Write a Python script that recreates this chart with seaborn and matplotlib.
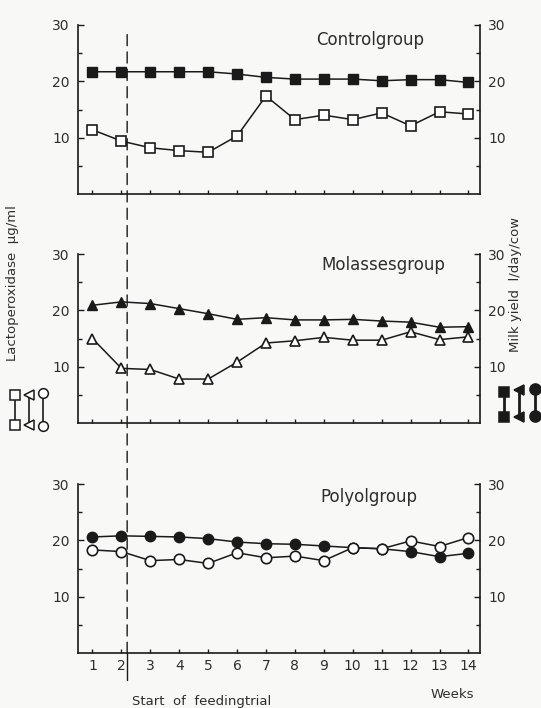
import matplotlib
matplotlib.use("Agg")
import matplotlib.pyplot as plt
import seaborn as sns
from matplotlib.lines import Line2D
from matplotlib.patches import ConnectionPatch
from matplotlib.ticker import FixedLocator

# ---------------- data ----------------
weeks = list(range(1, 15))
week_labels = [str(w) for w in weeks]

# Lactoperoxidase (ug/ml, left axis, open markers)
ctrl_lp = [11.4, 9.4, 8.2, 7.7, 7.4, 10.3, 17.4, 13.2, 14.0, 13.2, 14.4, 12.1, 14.6, 14.2]
mol_lp = [15.0, 9.7, 9.5, 7.8, 7.8, 10.8, 14.2, 14.6, 15.2, 14.7, 14.7, 16.2, 14.8, 15.3]
poly_lp = [18.3, 18.0, 16.4, 16.6, 15.9, 17.8, 16.9, 17.2, 16.4, 18.7, 18.5, 19.9, 18.9, 20.5]

# Milk yield (l/day/cow, right axis, filled markers)
ctrl_milk = [21.7, 21.7, 21.7, 21.7, 21.7, 21.3, 20.7, 20.4, 20.4, 20.4, 20.1, 20.3, 20.3, 19.8]
mol_milk = [20.9, 21.5, 21.2, 20.3, 19.4, 18.4, 18.7, 18.3, 18.3, 18.4, 18.1, 17.9, 17.0, 17.1]
poly_milk = [20.6, 20.8, 20.7, 20.6, 20.3, 19.7, 19.4, 19.3, 19.0, 18.7, 18.5, 18.0, 17.1, 17.7]

groups = ["Controlgroup", "Molassesgroup", "Polyolgroup"]
markers = ["s", "^", "o"]
feeding_start = 2.2

# ---------------- style ----------------
BG = "#f8f8f7"
INK = "#1a1a1a"
TXT = "#2e2e2e"
sns.set_theme(style="ticks")
plt.rcParams["font.family"] = ["DejaVu Sans"]
plt.rcParams["text.color"] = TXT
plt.rcParams["axes.edgecolor"] = INK
plt.rcParams["xtick.color"] = INK
plt.rcParams["ytick.color"] = INK
plt.rcParams["xtick.labelcolor"] = TXT
plt.rcParams["ytick.labelcolor"] = TXT

W, H = 541, 708
fig = plt.figure(figsize=(W / 100, H / 100), dpi=100, facecolor=BG)

def fx(px):
    return px / W

def fy(py):
    return 1 - py / H

L_px, R_px = 78, 480
panels_px = [(25, 194), (254, 423), (484, 653)]
title_px = [(370, 40), (383, 265), (369, 497)]
lp_data = [ctrl_lp, mol_lp, poly_lp]
milk_data = [ctrl_milk, mol_milk, poly_milk]
msizes = [6.5, 7.5, 7.5]

axes = []
for i, ((top, bot), title, lp, milk, m, ms) in enumerate(
        zip(panels_px, title_px, lp_data, milk_data, markers, msizes)):
    ax = fig.add_axes([fx(L_px), fy(bot), (R_px - L_px) / W, (bot - top) / H])
    ax2 = ax.twinx()
    ax.set_zorder(ax2.get_zorder() + 1)
    ax.set_facecolor("none")
    ax2.set_facecolor("none")

    sns.lineplot(x=weeks, y=milk, ax=ax2, color=INK, marker=m, markersize=ms,
                 markerfacecolor=INK, markeredgecolor=INK, markeredgewidth=1.0,
                 linewidth=1.1)
    sns.lineplot(x=weeks, y=lp, ax=ax, color=INK, marker=m, markersize=ms,
                 markerfacecolor="white", markeredgecolor=INK, markeredgewidth=1.2,
                 linewidth=1.1)

    for a in (ax, ax2):
        a.set_xlim(0.5, 14.4)
        a.set_ylim(0, 30)
        a.set_xlabel("")
        a.set_ylabel("")
        a.spines["top"].set_visible(False)
        a.yaxis.set_major_locator(FixedLocator([10, 20, 30]))
        a.yaxis.set_minor_locator(FixedLocator([5, 15, 25]))
        a.tick_params(axis="y", which="major", direction="in", length=4,
                      width=1.0, labelsize=10, pad=6)
        a.tick_params(axis="y", which="minor", direction="in", length=3, width=1.0)
    ax.spines["right"].set_visible(False)
    ax2.spines["left"].set_visible(False)
    ax2.spines["bottom"].set_visible(False)
    for sp in ("left", "bottom"):
        ax.spines[sp].set_linewidth(1.2)
    ax2.spines["right"].set_linewidth(1.2)

    ax.set_xticks(weeks)
    ax.tick_params(axis="x", direction="in", length=3, width=1.0, labelsize=10, pad=4)
    if i == 2:
        ax.set_xticklabels(week_labels)
    else:
        ax.set_xticklabels([])
    ax2.tick_params(axis="x", bottom=False, labelbottom=False)

    fig.text(fx(title[0]), fy(title[1]), groups[i], ha="center", va="center",
             fontsize=12, color=TXT)
    axes.append(ax)

# dashed "start of feeding trial" line through all panels
con = ConnectionPatch(xyA=(feeding_start, 28.3), coordsA=axes[0].transData,
                      xyB=(feeding_start, 0), coordsB=axes[2].transData,
                      linestyle=(0, (8, 4.5)), linewidth=1.0, color=INK)
fig.add_artist(con)
axes[2].plot([feeding_start, feeding_start], [0, -4.8], color=INK, lw=1.0,
             clip_on=False)

# axis titles
fig.text(fx(13), fy(283), "Lactoperoxidase  \u03bcg/ml", rotation=90,
         ha="center", va="center", fontsize=9.5, color=TXT)
fig.text(fx(515), fy(284), "Milk yield  l/day/cow", rotation=90,
         ha="center", va="center", fontsize=9.5, color=TXT)
fig.text(fx(202), fy(701), "Start  of  feedingtrial", ha="center", va="center",
         fontsize=9.5, color=TXT)
fig.text(fx(452), fy(694), "Weeks", ha="center", va="center",
         fontsize=9.5, color=TXT)

# marker keys (open = lactoperoxidase, filled = milk yield)
def key(xp, y1, y2, marker, filled, ms):
    fig.add_artist(Line2D([fx(xp), fx(xp)], [fy(y1), fy(y2)], transform=fig.transFigure,
                          color=INK, lw=1.2 if not filled else 2.0))
    fig.add_artist(Line2D([fx(xp), fx(xp)], [fy(y1), fy(y2)], transform=fig.transFigure,
                          linestyle="none", marker=marker, markersize=ms,
                          markerfacecolor=INK if filled else "white",
                          markeredgecolor=INK, markeredgewidth=1.1))

key(15, 395, 425, "s", False, 6.5)
key(29, 395, 425, "<", False, 7)
key(43, 393, 426, "o", False, 7)
key(504, 392, 417, "s", True, 6.5)
key(519, 390, 417, "<", True, 7.5)
key(535, 389, 416, "o", True, 8)

fig.savefig("out.png", dpi=100, facecolor=BG)
